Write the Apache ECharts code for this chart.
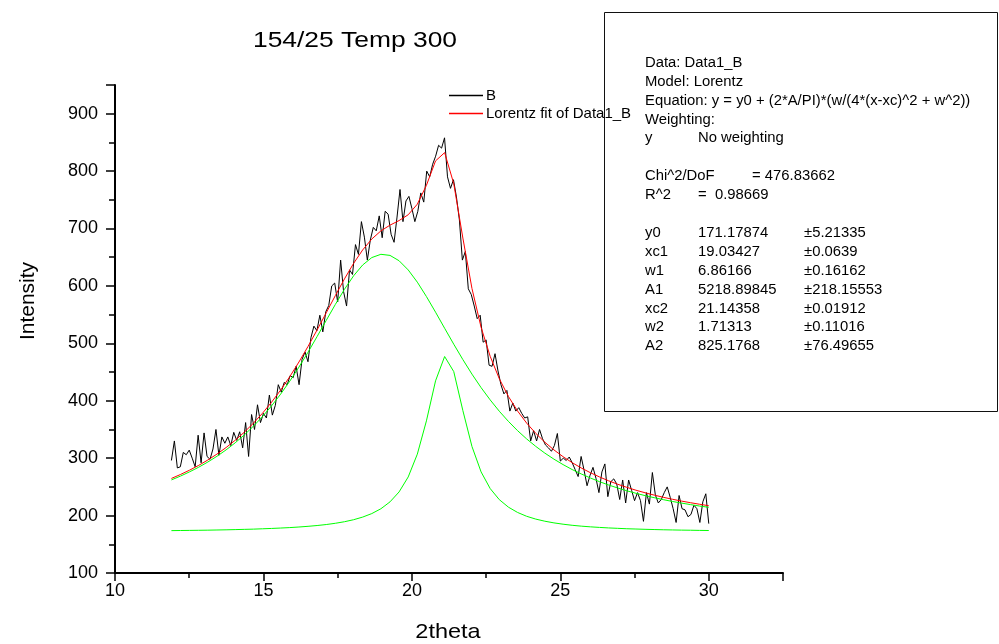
<!DOCTYPE html>
<html>
<head>
<meta charset="utf-8">
<script src="https://cdn.jsdelivr.net/npm/echarts@6/dist/echarts.min.js"></script>
<style>html,body{margin:0;padding:0;background:#fff}#c{width:999px;height:644px}</style>
</head>
<body>
<div id="c"></div>
<script>
// measured data (B)
const dataX = [11.9,12.0,12.1,12.2,12.3,12.4,12.5,12.6,12.7,12.8,12.9,13.0,13.1,13.2,13.3,13.4,13.5,13.6,13.7,13.8,13.9,14.0,14.1,14.2,14.3,14.4,14.5,14.6,14.7,14.8,14.9,15.0,15.1,15.2,15.3,15.4,15.5,15.6,15.7,15.8,15.9,16.0,16.1,16.2,16.3,16.4,16.5,16.6,16.7,16.8,16.9,17.0,17.1,17.2,17.3,17.4,17.5,17.6,17.7,17.8,17.9,18.0,18.1,18.2,18.3,18.4,18.5,18.6,18.7,18.8,18.9,19.0,19.1,19.2,19.3,19.4,19.5,19.6,19.7,19.8,19.9,20.0,20.1,20.2,20.3,20.4,20.5,20.6,20.7,20.8,20.9,21.0,21.1,21.2,21.3,21.4,21.5,21.6,21.7,21.8,21.9,22.0,22.1,22.2,22.3,22.4,22.5,22.6,22.7,22.8,22.9,23.0,23.1,23.2,23.3,23.4,23.5,23.6,23.7,23.8,23.9,24.0,24.1,24.2,24.3,24.4,24.5,24.6,24.7,24.8,24.9,25.0,25.1,25.2,25.3,25.4,25.5,25.6,25.7,25.8,25.9,26.0,26.1,26.2,26.3,26.4,26.5,26.6,26.7,26.8,26.9,27.0,27.1,27.2,27.3,27.4,27.5,27.6,27.7,27.8,27.9,28.0,28.1,28.2,28.3,28.4,28.5,28.6,28.7,28.8,28.9,29.0,29.1,29.2,29.3,29.4,29.5,29.6,29.7,29.8,29.9,30.0];
const dataY = [296,330,283,285,310,306,314,300,285,340,
292,344,303,298,316,350,305,337,326,337,
322,345,331,346,318,362,303,376,350,393,
362,378,370,410,375,392,428,415,432,428,
444,440,460,428,472,485,
468,510,530,522,549,520,555,566,600,605,
572,645,590,565,628,620,672,655,712,685,
645,680,702,696,722,684,730,725,690,676,
720,768,712,748,756,735,712,730,762,746,
800,790,812,826,845,840,858,
790,770,785,755,715,645,660,595,585,565,
543,549,502,506,462,460,482,452,428,412,
418,382,396,382,388,378,370,372,330,348,
330,350,334,323,318,312,322,343,295,300,
296,302,292,
280,268,303,279,252,270,284,265,240,276,
290,233,259,264,255,228,262,222,262,244,
226,240,226,190,240,220,275,236,222,228,
240,250,232,212,188,235,212,210,198,202,
218,212,188,224,238,186];

// fit curve values
const fitX = [11.900,12.207,12.514,12.820,13.127,13.434,13.741,14.047,14.354,14.661,14.968,15.275,15.581,15.888,16.195,16.502,16.808,17.115,17.422,17.729,18.036,18.342,18.649,18.956,19.263,19.569,19.876,20.183,20.490,20.797,21.103,21.410,21.717,22.024,22.331,22.637,22.944,23.251,23.558,23.864,24.171,24.478,24.785,25.092,25.398,25.705,26.012,26.319,26.625,26.932,27.239,27.546,27.853,28.159,28.466,28.773,29.080,29.386,29.693,30.000];
const fitTotal = [264.7,271.6,279.2,287.5,296.8,307.1,318.5,331.1,345.2,360.9,378.3,397.6,418.8,442.1,467.5,494.7,523.4,553.2,583.2,612.3,639.2,662.7,681.7,695.9,705.9,713.9,724.0,742.4,775.3,817.8,832.2,778.1,683.4,595.5,527.9,477.4,438.4,407.5,382.3,361.2,343.3,327.8,314.4,302.6,292.2,282.9,274.7,267.3,260.6,254.6,249.2,244.2,239.8,235.7,231.9,228.5,225.3,222.4,219.7,217.2];
const fitPeak1 = [262.1,268.8,276.2,284.3,293.3,303.3,314.4,326.7,340.4,355.6,372.5,391.2,411.7,434.2,458.6,484.6,511.9,540.0,567.8,594.2,617.6,636.5,649.4,655.1,653.2,643.9,627.9,606.6,581.5,554.3,526.3,498.5,471.7,446.4,422.9,401.5,381.8,364.1,348.0,333.6,320.6,308.8,298.3,288.8,280.2,272.5,265.5,259.1,253.3,248.1,243.2,238.9,234.8,231.2,227.8,224.6,221.8,219.1,216.6,214.4];
const fitPeak2 = [173.8,174.0,174.2,174.4,174.6,174.9,175.2,175.6,176.0,176.4,177.0,177.6,178.3,179.1,180.1,181.3,182.7,184.4,186.6,189.3,192.8,197.4,203.5,211.9,223.9,241.2,267.3,307.0,365.0,434.7,477.1,450.8,382.9,320.3,276.1,247.1,227.8,214.7,205.5,198.8,193.9,190.2,187.3,185.0,183.1,181.6,180.4,179.4,178.5,177.8,177.1,176.6,176.1,175.7,175.3,175.0,174.7,174.5,174.2,174.0];

const xTicks = {min: 10, max: 32.5, interval: 5};
const yTicks = {min: 100, max: 950, interval: 100};

const reportLines = [
  ['Data: Data1_B'],
  ['Model: Lorentz'],
  ['Equation: y = y0 + (2*A/PI)*(w/(4*(x-xc)^2 + w^2))'],
  ['Weighting:'],
  ['y', 'No weighting'],
  null,
  ['Chi^2/DoF', '', '', '= 476.83662'],
  ['R^2', '=  0.98669'],
  null,
  ['y0', '171.17874', '\u00b15.21335'],
  ['xc1', '19.03427', '\u00b10.0639'],
  ['w1', '6.86166', '\u00b10.16162'],
  ['A1', '5218.89845', '\u00b1218.15553'],
  ['xc2', '21.14358', '\u00b10.01912'],
  ['w2', '1.71313', '\u00b10.11016'],
  ['A2', '825.1768', '\u00b176.49655']
];

const FONT = "'Liberation Sans', Arial, sans-serif";
const zip = (xs, ys) => xs.map((x, i) => [x, ys[i]]);

const graphics = [
  {type: 'text', x: 355, y: 41, scaleX: 1.2, style: {text: '154/25 Temp 300', font: '22px ' + FONT, fill: '#000', textAlign: 'center', textVerticalAlign: 'middle'}},
  {type: 'text', x: 28, y: 301, rotation: Math.PI / 2, style: {text: 'Intensity', font: '21px ' + FONT, fill: '#000', textAlign: 'center', textVerticalAlign: 'middle'}},
  {type: 'text', x: 448, y: 632, scaleX: 1.12, style: {text: '2theta', font: '21px ' + FONT, fill: '#000', textAlign: 'center', textVerticalAlign: 'middle'}},
  {type: 'rect', shape: {x: 604.5, y: 12.5, width: 393, height: 399}, style: {fill: 'none', stroke: '#111', lineWidth: 1}, z: 10}
];

let ly = 63;
const lineH = 18.9;
reportLines.forEach(row => {
  if (row) {
    const cols = [645, 698, 804];
    row.forEach((t, i) => {
      if (!t) return;
      const x = i === 3 ? 752 : cols[i];
      graphics.push({type: 'text', x: x, y: ly, z: 11, scaleX: 1.06, style: {text: t, font: '14px ' + FONT, fill: '#000', textVerticalAlign: 'middle'}});
    });
  }
  ly += lineH;
});

const chart = echarts.init(document.getElementById('c'));
chart.setOption({
  animation: false,
  backgroundColor: '#fff',
  textStyle: {fontFamily: FONT},
  grid: {left: 115, right: 216, top: 85, bottom: 71},
  legend: {
    data: [
      {name: 'B', itemStyle: {color: '#000'}},
      {name: 'Lorentz fit of Data1_B', itemStyle: {color: '#ff0000'}}
    ],
    orient: 'vertical', left: 444, top: 83,
    itemWidth: 34, itemHeight: 1.5, itemGap: 3, icon: 'rect',
    textStyle: {fontSize: 15, color: '#000', fontFamily: FONT, lineHeight: 15, padding: [0, 0, 0, -2]}
  },
  xAxis: {
    type: 'value', min: xTicks.min, max: xTicks.max, interval: xTicks.interval,
    axisLine: {onZero: false, lineStyle: {color: '#000', width: 2}},
    axisTick: {length: 8, lineStyle: {color: '#000', width: 1.5}},
    minorTick: {show: true, splitNumber: 2, length: 5, lineStyle: {color: '#000', width: 1.5}},
    splitLine: {show: false},
    axisLabel: {fontSize: 18, color: '#000', margin: 9, showMaxLabel: false, fontFamily: FONT}
  },
  yAxis: {
    type: 'value', min: yTicks.min, max: yTicks.max, interval: yTicks.interval,
    axisLine: {show: true, onZero: false, lineStyle: {color: '#000', width: 2}},
    axisTick: {show: true, length: 9, lineStyle: {color: '#000', width: 1.5}},
    minorTick: {show: true, splitNumber: 2, length: 6, lineStyle: {color: '#000', width: 1.5}},
    splitLine: {show: false},
    axisLabel: {fontSize: 18, color: '#000', margin: 17, showMaxLabel: false, fontFamily: FONT}
  },
  series: [
    {name: 'B', type: 'line', data: zip(dataX, dataY), showSymbol: false, symbol: 'none', lineStyle: {color: '#000', width: 1}, itemStyle: {color: '#000'}, z: 2},
    {name: 'peak1', type: 'line', data: zip(fitX, fitPeak1), showSymbol: false, symbol: 'none', lineStyle: {color: '#00ff00', width: 1}, itemStyle: {color: '#00ff00'}, z: 3},
    {name: 'peak2', type: 'line', data: zip(fitX, fitPeak2), showSymbol: false, symbol: 'none', lineStyle: {color: '#00ff00', width: 1}, itemStyle: {color: '#00ff00'}, z: 3},
    {name: 'Lorentz fit of Data1_B', type: 'line', data: zip(fitX, fitTotal), showSymbol: false, symbol: 'none', lineStyle: {color: '#ff0000', width: 1}, itemStyle: {color: '#ff0000'}, z: 4}
  ],
  graphic: graphics
});
</script>
</body>
</html>
